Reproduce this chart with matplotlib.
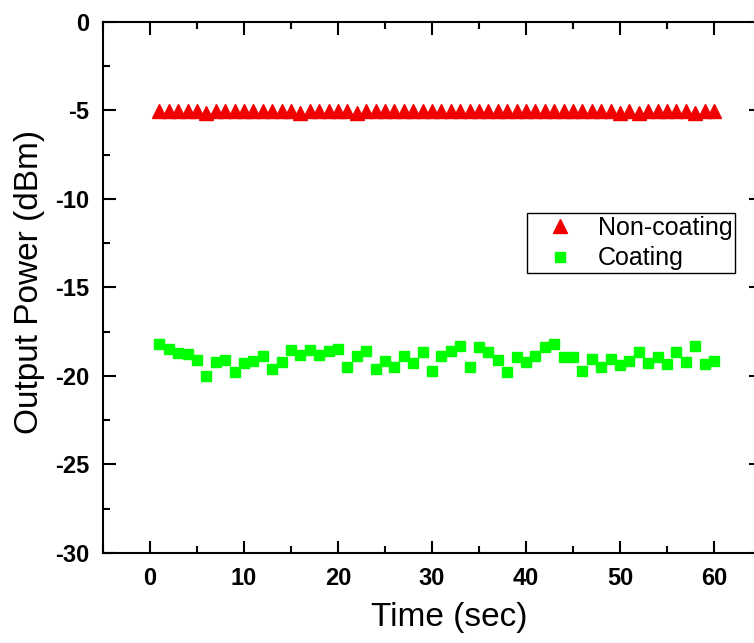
import matplotlib
matplotlib.use("Agg")
import matplotlib.pyplot as plt
from matplotlib.ticker import MultipleLocator

time_sec = list(range(1, 61))
non_coating = [-5.05, -5.05, -5.05, -5.05, -5.05, -5.12, -5.05, -5.05, -5.05, -5.05,
               -5.05, -5.05, -5.05, -5.05, -5.05, -5.12, -5.05, -5.05, -5.05, -5.05,
               -5.05, -5.12, -5.05, -5.05, -5.05, -5.05, -5.05, -5.05, -5.05, -5.05,
               -5.05, -5.05, -5.05, -5.05, -5.05, -5.05, -5.05, -5.05, -5.05, -5.05,
               -5.05, -5.05, -5.05, -5.05, -5.05, -5.05, -5.05, -5.05, -5.05, -5.12,
               -5.05, -5.12, -5.05, -5.05, -5.05, -5.05, -5.05, -5.12, -5.05, -5.05]
coating = [-18.2, -18.47, -18.7, -18.76, -19.1, -19.98, -19.2, -19.1, -19.8, -19.25,
           -19.13, -18.85, -19.6, -19.2, -18.53, -18.8, -18.53, -18.8, -18.57, -18.5,
           -19.47, -18.85, -18.57, -19.6, -19.13, -19.47, -18.85, -19.28, -18.62, -19.72,
           -18.85, -18.57, -18.3, -19.5, -18.34, -18.66, -19.1, -19.79, -18.9, -19.19,
           -18.85, -18.34, -18.2, -18.95, -18.95, -19.72, -19.04, -19.47, -19.04, -19.4,
           -19.13, -18.62, -19.28, -18.95, -19.32, -18.62, -19.19, -18.3, -19.32, -19.13]
x_ticks = [0, 10, 20, 30, 40, 50, 60]
y_ticks = [0, -5, -10, -15, -20, -25, -30]

plt.rcParams['font.family'] = ['Liberation Sans', 'DejaVu Sans']
plt.rcParams['axes.unicode_minus'] = False

fig = plt.figure(figsize=(7.54, 6.43), dpi=100)
ax = fig.add_axes([0.1366, 0.14, 0.8727, 0.8258])

ax.plot(time_sec, non_coating, linestyle='none', marker='^', ms=10,
        color='#f00000', mec='#f00000', label='Non-coating', zorder=3)
ax.plot(time_sec, coating, linestyle='none', marker='s', ms=7.5,
        color='#00ff00', mec='#00ff00', label='Coating', zorder=3)

ax.set_xlim(-5, 65)
ax.set_ylim(-30, 0)
ax.set_xticks(x_ticks)
ax.set_yticks(y_ticks)
ax.xaxis.set_minor_locator(MultipleLocator(5))
ax.yaxis.set_minor_locator(MultipleLocator(2.5))
ax.tick_params(which='both', direction='in', top=True, right=True, width=1.5)
ax.tick_params(which='major', length=9, labelsize=17, pad=10)
ax.tick_params(which='minor', length=5)
for lbl in ax.get_xticklabels() + ax.get_yticklabels():
    lbl.set_fontweight('bold')
for sp in ax.spines.values():
    sp.set_linewidth(1.5)

ax.set_xlabel('Time (sec)', fontsize=24)
ax.set_ylabel('Output Power (dBm)', fontsize=24)
ax.xaxis.set_label_coords(0.526, -0.093)
ax.yaxis.set_label_coords(-0.088, 0.51)

leg = ax.legend(loc='upper left', bbox_to_anchor=(0.644, 0.640), fontsize=18,
                frameon=True, fancybox=False, edgecolor='black', framealpha=1,
                handlelength=2.4, handletextpad=0.32, borderpad=0.12, labelspacing=0.25,
                borderaxespad=0)
leg.get_frame().set_linewidth(1.0)

fig.savefig('out.png', dpi=100)
